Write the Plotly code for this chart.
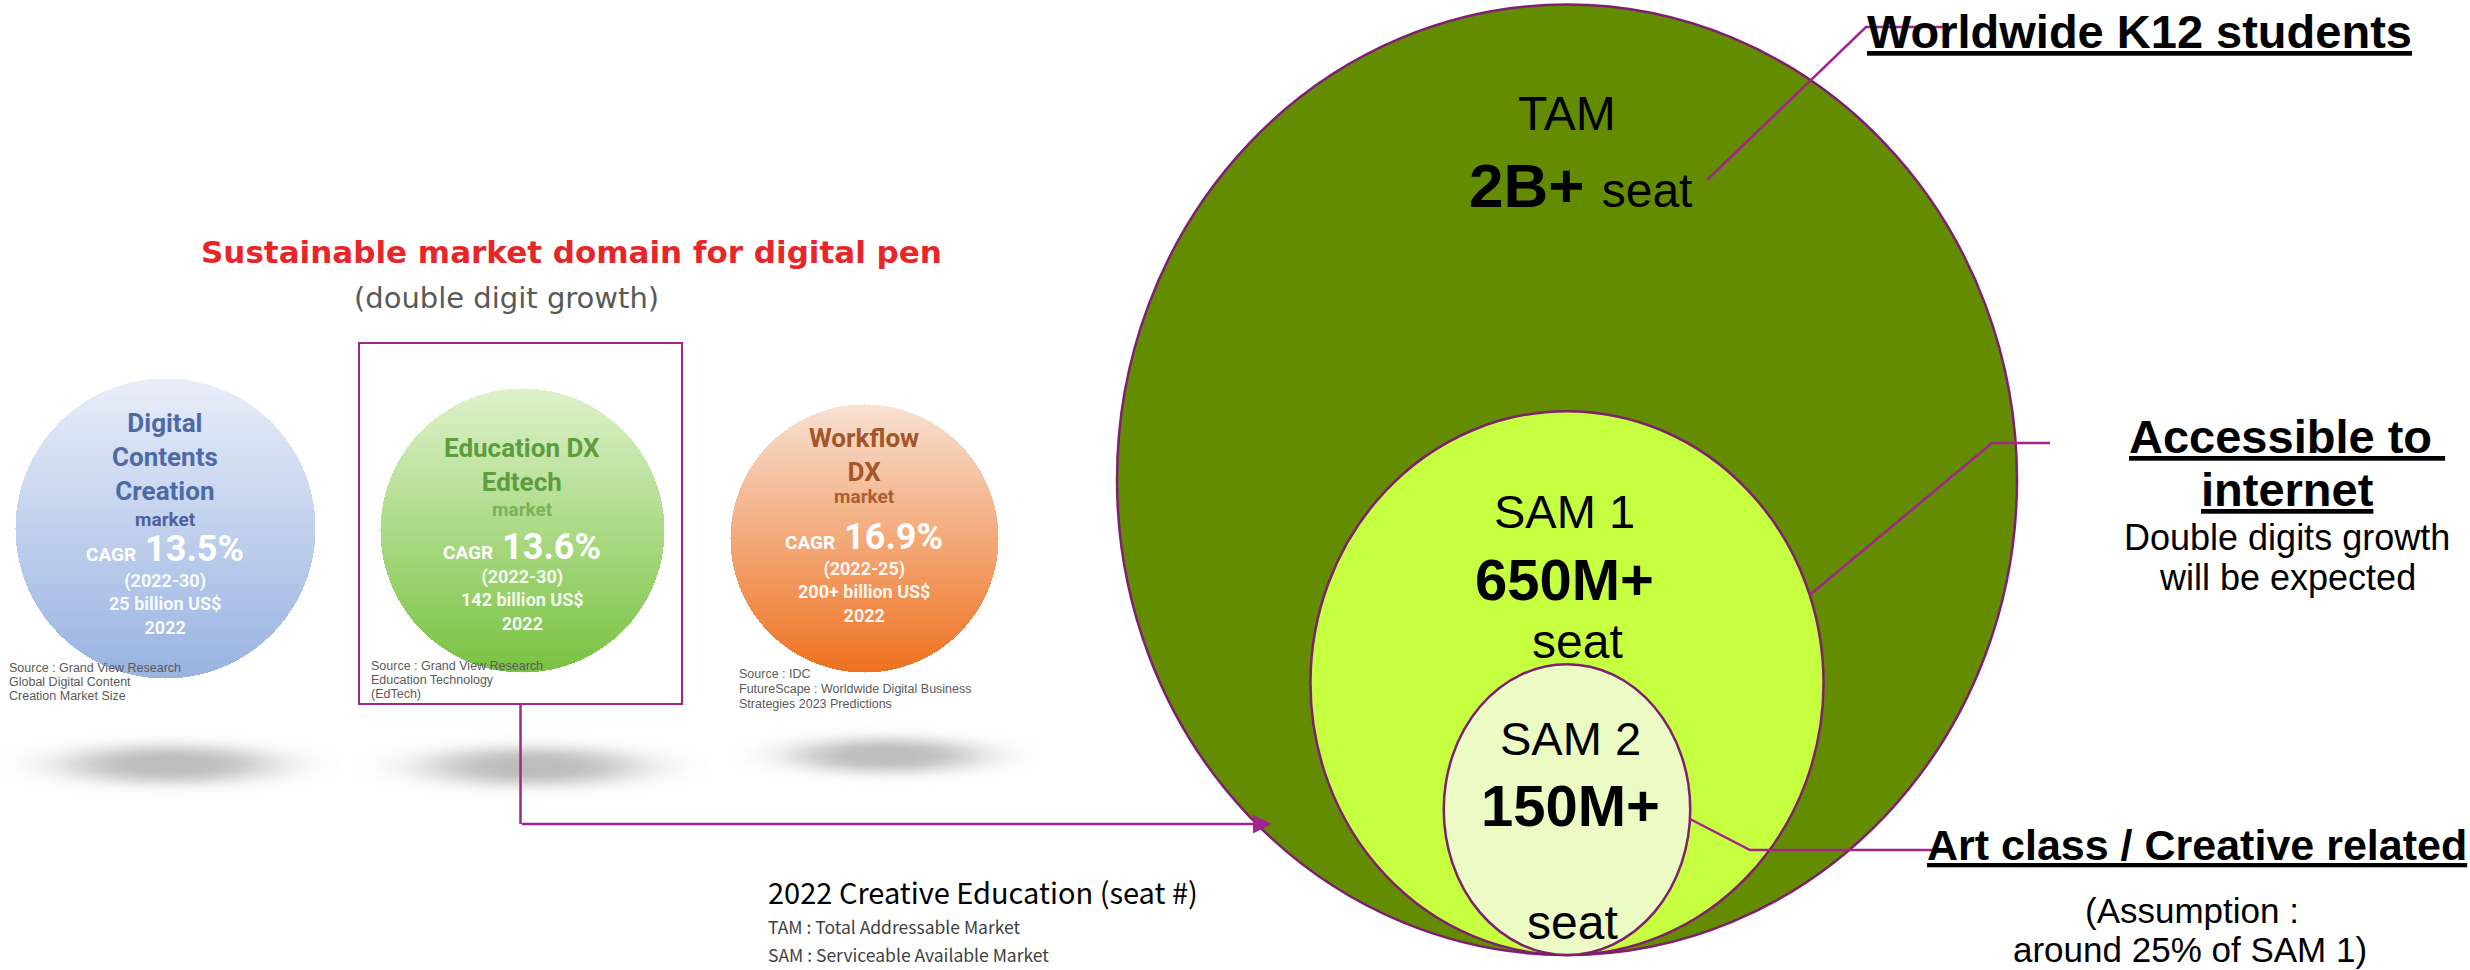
import numpy as np
import plotly.graph_objects as go

# ---------------- data ----------------
# market-growth circles (left panel)
market_titles = [["Digital", "Contents", "Creation"], ["Education DX", "Edtech"], ["Workflow", "DX"]]
market_unit = ["market", "market", "market"]
market_cagr_pct = [13.5, 13.6, 16.9]
market_periods = ["2022-30", "2022-30", "2022-25"]
market_size_busd = ["25", "142", "200+"]
market_size_year = ["2022", "2022", "2022"]
market_sources = [
    ["Source : Grand View Research", "Global Digital Content", "Creation Market Size"],
    ["Source : Grand View Research", "Education Technology", "(EdTech)"],
    ["Source : IDC", "FutureScape : Worldwide Digital Business", "Strategies 2023 Predictions"],
]

# seat funnel (right panel)
tier_names = ["TAM", "SAM 1", "SAM 2"]
tier_seats_m = [2000, 650, 150]
tier_seat_labels = ["2B+", "650M+", "150M+"]
tier_headlines = [["Worldwide K12 students"], ["Accessible to\u00a0", "internet"], ["Art class / Creative related"]]
tier_notes = [[], ["Double digits growth", "will be expected"], ["(Assumption :", "around 25% of SAM 1)"]]

panel_title = "Sustainable market domain for digital pen"
panel_subtitle = "(double digit growth)"
chart_title = "2022 Creative Education (seat #)"
glossary = ["TAM : Total Addressable Market", "SAM : Serviceable Available Market"]

# ---------------- styling ----------------
W, H = 2470, 970
ARIAL = "Liberation Sans, Arial, sans-serif"
CJK = "Noto Sans CJK JP, Noto Sans, sans-serif"
ROBOTO = "Roboto, Noto Sans, sans-serif"
JPG = "DejaVu Sans, sans-serif"
MAG = "#A4238F"
OUTLINE = "#7E1F70"

disc_geo = [(165, 528, 150), (522, 530, 142), (864, 538, 134)]
disc_top = ["#e9eef9", "#def2cb", "#f8e1d3"]
disc_bottom = ["#98b3e1", "#79c241", "#ef711f"]
title_color = ["#4e6aa6", "#5d9c3f", "#a3562a"]
unit_color = ["#4f5f9e", "#78b356", "#aa5e33"]
title_mid_y = [457, 465, 455]
unit_y = [519, 509, 496]
cagr_y = [549, 547, 537]
detail_mid_y = [604, 600, 592]
source_x = [8, 370, 738]
source_y = [[668, 682, 696], [666, 680, 694], [674, 689, 704]]
shadow_geo = [(168, 764, 115, 21), (532, 766, 118, 21), (886, 755, 104, 19)]

tier_fill = ["#638C00", "#C6FF40", "#EBFBC3"]
tier_aspect = [1.056, 1.06, 1.18]
funnel_cx, funnel_bottom, R_X = 1567, 955, 450

fig = go.Figure()
annots, shapes = [], []


def label(x, y, text, size, color="#000000", family=ARIAL, xanchor="center", yanchor="middle"):
    annots.append(dict(x=x, y=y, xref="x", yref="y", text=text, showarrow=False,
                       font=dict(size=size, color=color, family=family),
                       xanchor=xanchor, yanchor=yanchor, borderpad=0))


def gradient_disc(cx, cy, r, c0, c1):
    xs = np.arange(cx - r, cx + r + 1, 1.0)
    ys = np.arange(cy - r, cy + r + 1, 1.0)
    X, Y = np.meshgrid(xs, ys)
    inside = (X - cx) ** 2 + (Y - cy) ** 2 <= r ** 2
    Z = np.where(inside, np.round((Y - (cy - r)) / (2 * r), 3), np.nan)
    return go.Heatmap(x=xs, y=ys, z=Z, colorscale=[[0, c0], [1, c1]], zmin=0, zmax=1,
                      showscale=False, hoverinfo="skip", zsmooth=False)


def soft_shadow(cx, cy, ax, ay):
    xs = np.arange(cx - 1.5 * ax, cx + 1.5 * ax, 2.0)
    ys = np.arange(cy - 2.6 * ay, cy + 2.6 * ay, 2.0)
    X, Y = np.meshgrid(xs, ys)
    d2 = ((X - cx) / ax) ** 2 + ((Y - cy) / ay) ** 2
    Z = np.round(np.exp(-(d2 ** 1.6)), 3)
    return go.Heatmap(x=xs, y=ys, z=Z, zmin=0, zmax=1, showscale=False, hoverinfo="skip",
                      colorscale=[[0, "rgba(205,205,205,0)"], [1, "rgba(185,185,185,0.95)"]],
                      zsmooth="best")


# ---------------- left panel: growth markets ----------------
for i in range(len(market_titles)):
    fig.add_trace(soft_shadow(*shadow_geo[i]))
for i in range(len(market_titles)):
    cx, cy, r = disc_geo[i]
    fig.add_trace(gradient_disc(cx, cy, r, disc_top[i], disc_bottom[i]))
    label(cx, title_mid_y[i], "<b>" + "<br>".join(market_titles[i]) + "</b>", 26, title_color[i], ROBOTO)
    label(cx, unit_y[i], f"<b>{market_unit[i]}</b>", 19, unit_color[i], ROBOTO)
    label(cx, cagr_y[i],
          f"<b><span style='font-size:19px'>CAGR</span> {market_cagr_pct[i]:.1f}%</b>",
          36, "#ffffff", ROBOTO)
    details = f"<b>({market_periods[i]})<br>{market_size_busd[i]} billion US$<br>{market_size_year[i]}</b>"
    label(cx, detail_mid_y[i], details, 18, "rgba(255,255,255,0.93)", ROBOTO)
    for src, y in zip(market_sources[i], source_y[i]):
        label(source_x[i], y, src, 12.5, "#5a5a5a", ARIAL, xanchor="left")

label(571, 252, f"<b>{panel_title}</b>", 31, "#E8262A", JPG)
label(506, 298, panel_subtitle, 29, "#595959", JPG)

# highlight box around the Edtech market and the arrow into the funnel
box_x0, box_x1, box_y0, box_y1 = 359, 682, 343, 704
shapes.append(dict(type="rect", xref="x", yref="y", x0=box_x0, x1=box_x1, y0=box_y0, y1=box_y1,
                   line=dict(color=MAG, width=2)))
arrow_y = 824
box_mid = (box_x0 + box_x1) / 2
shapes.append(dict(type="line", xref="x", yref="y", x0=box_mid, x1=box_mid, y0=box_y1, y1=arrow_y,
                   line=dict(color=MAG, width=2.5)))

# ---------------- right panel: seat funnel ----------------
tiers = []
for seats, aspect in zip(tier_seats_m, tier_aspect):
    rx = R_X * np.sqrt(seats / tier_seats_m[0])
    ry = rx * aspect
    tiers.append((funnel_cx, funnel_bottom - ry, rx, ry))

for (cx, cy, rx, ry), fill in zip(tiers, tier_fill):
    shapes.append(dict(type="circle", xref="x", yref="y", x0=cx - rx, x1=cx + rx,
                       y0=cy - ry, y1=cy + ry, fillcolor=fill,
                       line=dict(color=OUTLINE, width=2.5), layer="above"))


def edge_x(tier, y, side=1):
    cx, cy, rx, ry = tiers[tier]
    return cx + side * rx * np.sqrt(max(0.0, 1 - ((y - cy) / ry) ** 2))


# arrow from the box into the TAM circle (tip just over its rim)
annots.append(dict(x=edge_x(0, arrow_y, -1) + 15, y=arrow_y, ax=box_mid, ay=arrow_y,
                   xref="x", yref="y", axref="x", ayref="y", text="", showarrow=True,
                   arrowhead=2, arrowsize=1.5, arrowwidth=2.5, arrowcolor=MAG, standoff=0))

# tier labels
cx0 = funnel_cx
label(cx0, 113, tier_names[0], 48)
label(cx0 + 13, 185, f"<b>{tier_seat_labels[0]}</b> <span style='font-size:48px'>seat</span>", 62)
label(cx0 - 3, 511, tier_names[1], 47)
label(cx0 - 3, 579, f"<b>{tier_seat_labels[1]}</b>", 58)
label(cx0 + 10, 641, "seat", 48)
label(cx0 + 3, 738, tier_names[2], 47)
label(cx0 + 3, 805, f"<b>{tier_seat_labels[2]}</b>", 58)
label(cx0 + 5, 922, "seat", 48)


# connectors
def connector(points):
    path = "M " + " L ".join(f"{x:.1f},{y:.1f}" for x, y in points)
    shapes.append(dict(type="path", xref="x", yref="y", path=path,
                       line=dict(color=MAG, width=2.5), layer="above"))


connector([(1707, 180), (1866, 27), (1950, 27)])
connector([(edge_x(1, 595), 595), (1992, 443), (2050, 443)])
connector([(edge_x(2, 819), 819), (1750, 850), (1937, 850)])

# tier call-outs
label(1866, 31, f"<b><u>{tier_headlines[0][0]}</u></b>", 47, xanchor="left")
label(2287, 436, f"<b><u>{tier_headlines[1][0]}</u></b>", 47)
label(2287, 489, f"<b><u>{tier_headlines[1][1]}</u></b>", 47)
label(2287, 537, tier_notes[1][0], 36)
label(2287, 577, tier_notes[1][1], 36)
label(2197, 845, f"<b><u>{tier_headlines[2][0]}</u></b>", 43)
label(2192, 910, tier_notes[2][0], 35)
label(2190, 949, tier_notes[2][1], 35)

# chart title and glossary
label(767, 891, chart_title, 29, "#000000", CJK, xanchor="left")
label(767, 926, glossary[0], 17.5, "#404040", CJK, xanchor="left")
label(767, 954, glossary[1], 17.5, "#404040", CJK, xanchor="left")

fig.update_layout(
    width=W, height=H, margin=dict(l=0, r=0, t=0, b=0),
    paper_bgcolor="white", plot_bgcolor="white", showlegend=False,
    xaxis=dict(range=[0, W], visible=False, fixedrange=True),
    yaxis=dict(range=[H, 0], visible=False, fixedrange=True),
    shapes=shapes, annotations=annots,
)

fig.write_html("out.html", config={"displayModeBar": False})
